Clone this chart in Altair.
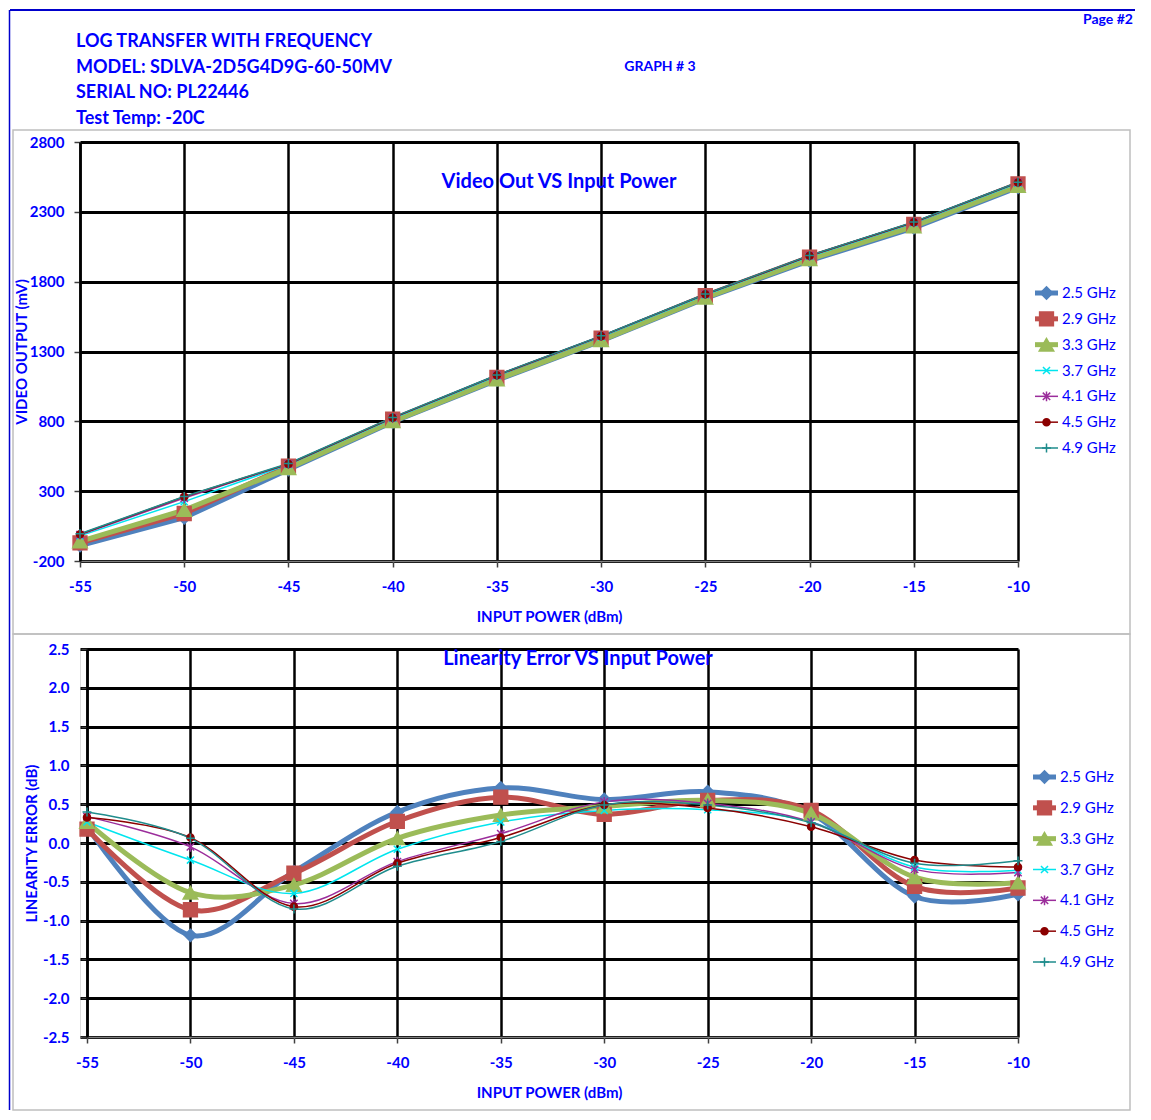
import altair as alt
import pandas as pd

# ---------------- data ----------------
x_power = [-55, -50, -45, -40, -35, -30, -25, -20, -15, -10]
series_names = ["2.5 GHz", "2.9 GHz", "3.3 GHz", "3.7 GHz", "4.1 GHz", "4.5 GHz", "4.9 GHz"]

video_25 = [-90, 110, 455, 795, 1095, 1375, 1680, 1950, 2185, 2475]
video_29 = [-70, 140, 480, 815, 1115, 1395, 1700, 1975, 2210, 2500]
video_33 = [-60, 165, 465, 800, 1100, 1380, 1685, 1960, 2195, 2485]
video_37 = [-20, 225, 490, 820, 1125, 1405, 1705, 1980, 2220, 2505]
video_41 = [-12, 250, 495, 825, 1130, 1410, 1710, 1985, 2225, 2510]
video_45 = [-8, 260, 495, 825, 1130, 1410, 1710, 1985, 2225, 2510]
video_49 = [-5, 262, 498, 828, 1132, 1412, 1712, 1988, 2228, 2512]

lin_25 = [0.21, -1.19, -0.37, 0.40, 0.71, 0.56, 0.66, 0.38, -0.69, -0.66]
lin_29 = [0.18, -0.86, -0.39, 0.28, 0.59, 0.37, 0.55, 0.42, -0.56, -0.58]
lin_33 = [0.27, -0.64, -0.54, 0.06, 0.36, 0.47, 0.55, 0.38, -0.44, -0.51]
lin_37 = [0.27, -0.22, -0.65, -0.08, 0.27, 0.42, 0.43, 0.27, -0.31, -0.35]
lin_41 = [0.34, -0.05, -0.78, -0.24, 0.12, 0.53, 0.51, 0.27, -0.34, -0.38]
lin_45 = [0.33, 0.07, -0.82, -0.26, 0.07, 0.49, 0.45, 0.21, -0.22, -0.31]
lin_49 = [0.40, 0.06, -0.85, -0.30, 0.02, 0.49, 0.49, 0.26, -0.26, -0.23]

video_ticks = [-200, 300, 800, 1300, 1800, 2300, 2800]
lin_ticks = [-2.5, -2.0, -1.5, -1.0, -0.5, 0.0, 0.5, 1.0, 1.5, 2.0, 2.5]

header_lines = ["LOG TRANSFER WITH FREQUENCY", "MODEL: SDLVA-2D5G4D9G-60-50MV",
                "SERIAL NO: PL22446", "Test Temp: -20C"]

# ---------------- styles ----------------
FONT = "Lato, Carlito, Calibri, sans-serif"
BLUE = "#0000ff"
colors = ["#4F81BD", "#C0504D", "#9BBB59", "#00E5EE", "#9B2D9B", "#8B0000", "#1F8C8C"]
fills = ["#4F81BD", "#C0504D", "#9BBB59", "transparent", "transparent", "#8B0000", "transparent"]
shapes = ["diamond", "square", "triangle-up",
          "M-1,-1L1,1M-1,1L1,-1",
          "M-1,-1L1,1M-1,1L1,-1M0,-1.3L0,1.3",
          "circle",
          "M-1,0L1,0M0,-1L0,1"]
line_widths = [5, 5, 5, 1.5, 1.5, 1.5, 1.5]
marker_sizes = [150, 190, 210, 50, 55, 50, 80]
FIXMINUS = "replace(datum.label, '\u2212', '-')"


def long_frame(values):
    rows = []
    for name, vals in zip(series_names, values):
        for xv, yv in zip(x_power, vals):
            rows.append({"power": xv, "value": yv, "series": name})
    return pd.DataFrame(rows)


video_df = long_frame([video_25, video_29, video_33, video_37, video_41, video_45, video_49])
lin_df = long_frame([lin_25, lin_29, lin_33, lin_37, lin_41, lin_45, lin_49])
legend_df = pd.DataFrame({"series": series_names})


def txt(t, x, y, size, align="left", weight="bold"):
    return alt.Chart(pd.DataFrame({"t": [t]})).mark_text(
        align=align, baseline="middle", font=FONT, fontSize=size,
        fontWeight=weight, color=BLUE
    ).encode(text="t:N", x=alt.value(x), y=alt.value(y))


def box(x1, x2, y1, y2):
    return alt.Chart(pd.DataFrame({"a": [0]})).mark_rect(
        fillOpacity=0, stroke="#bfbfbf", strokeWidth=1.5
    ).encode(x=alt.value(x1), x2=alt.value(x2), y=alt.value(y1), y2=alt.value(y2))


STROKE = alt.Stroke("series:N", scale=alt.Scale(domain=series_names, range=colors), legend=None)
FILL = alt.Fill("series:N", scale=alt.Scale(domain=series_names, range=fills), legend=None)
SHAPE = alt.Shape("series:N", scale=alt.Scale(domain=series_names, range=shapes), legend=None)
SIZE = alt.Size("series:N", scale=alt.Scale(type="ordinal", domain=series_names,
                                            range=marker_sizes), legend=None)
SWIDTH = alt.StrokeWidth("series:N", scale=alt.Scale(type="ordinal", domain=series_names,
                                                     range=line_widths), legend=None)


def panel(df, xdomain, ydomain, yvals, yfmt, xtitle, ytitle, height,
          interp, leg_range, leg_x, ytitle_x, ylabel_pad, yoffset):
    xenc = alt.X("power:Q", scale=alt.Scale(domain=xdomain, nice=False, zero=False),
                 axis=alt.Axis(values=x_power, format="d", labelExpr=FIXMINUS,
                               labelFlush=False, title=xtitle, grid=True,
                               gridColor="black", gridWidth=2.5,
                               domainColor="#7f7f7f", domainWidth=1.5,
                               tickColor="#404040", tickSize=6, tickWidth=1.5,
                               labelPadding=12, titlePadding=15,
                               labelFont=FONT, labelFontSize=15, labelFontWeight="bold",
                               labelColor=BLUE, titleFont=FONT, titleFontSize=15,
                               titleFontWeight="bold", titleColor=BLUE))
    yscale = alt.Scale(domain=ydomain, nice=False, zero=False)
    yenc = alt.Y("value:Q", scale=yscale,
                 axis=alt.Axis(values=yvals, format=yfmt, labelExpr=FIXMINUS,
                               title=ytitle, grid=True,
                               gridColor="black", gridWidth=3,
                               domainColor="black", domainWidth=2.5,
                               tickColor="#404040", tickSize=6, tickWidth=1.5,
                               labelPadding=ylabel_pad, titleX=ytitle_x,
                               titleY=height / 2, offset=yoffset,
                               labelFont=FONT, labelFontSize=15, labelFontWeight="bold",
                               labelColor=BLUE, titleFont=FONT, titleFontSize=15,
                               titleFontWeight="bold", titleColor=BLUE))
    yenc_plain = alt.Y("value:Q", scale=yscale, axis=None)
    base = alt.Chart(df)
    lines = base.mark_line(interpolate=interp, tension=0).encode(
        x=xenc, y=yenc, stroke=STROKE, strokeWidth=SWIDTH, detail="series:N",
    )
    pts = base.mark_point(filled=False, strokeWidth=1.5, opacity=1).encode(
        x=xenc, y=yenc_plain, stroke=STROKE, fill=FILL, shape=SHAPE, size=SIZE,
    )
    # legend drawn from the series list through a point scale of its own
    ly = alt.Y("series:N", scale=alt.Scale(type="point", domain=series_names,
                                           range=leg_range, padding=0), axis=None)
    leg = alt.Chart(legend_df)
    leg_rule = leg.mark_rule().encode(
        x=alt.value(leg_x), x2=alt.value(leg_x + 23), y=ly,
        stroke=STROKE, strokeWidth=SWIDTH)
    leg_pts = leg.mark_point(filled=False, strokeWidth=1.5, opacity=1).encode(
        x=alt.value(leg_x + 11.5), y=ly, stroke=STROKE, fill=FILL, shape=SHAPE, size=SIZE)
    leg_txt = leg.mark_text(align="left", baseline="middle", font=FONT, fontSize=15,
                            color=BLUE).encode(
        x=alt.value(leg_x + 27), y=ly, text="series:N")
    return [lines, pts, leg_rule, leg_pts, leg_txt]


# ---------------- top panel ----------------
W = 938
top_marks = panel(video_df, [-55, -10], [-200, 2800], video_ticks, "d",
                  "INPUT POWER (dBm)", "VIDEO OUTPUT (mV)", 419,
                  "linear", [151, 306], 955, -51, 10, 0)
top_layers = [
    box(-67, 1050, -12, 492),
    alt.Chart(pd.DataFrame({"a": [0]})).mark_rule(color="#0000cc", strokeWidth=2).encode(
        x=alt.value(-70), x2=alt.value(1055), y=alt.value(-132)),
    alt.Chart(pd.DataFrame({"a": [0]})).mark_rule(color="#0000cc", strokeWidth=1.5).encode(
        x=alt.value(-70.5), y=alt.value(-132), y2=alt.value(968)),
] + top_marks + [
    txt("Video Out VS Input Power", 479, 40, 20, align="center"),
    txt("GRAPH # 3", 580, -75, 14, align="center"),
    txt("Page #2", 1053, -122, 14, align="right"),
]
for i, line in enumerate(header_lines):
    top_layers.append(txt(line, -4, -100 + i * 25.7, 18))

top = alt.layer(*top_layers).resolve_scale(y="independent").properties(width=W, height=419)

# ---------------- bottom panel ----------------
shift = 7 / (931 / 45)
bot_marks = panel(lin_df, [-55 - shift, -10], [-2.5, 2.5], lin_ticks, ".1f",
                  "INPUT POWER (dBm)", "LINEARITY ERROR (dB)", 388,
                  "cardinal", [128, 313], 953, -48, 12, -7)
bottom = alt.layer(
    *([box(-67, 1050, -15, 461)] + bot_marks +
      [txt("Linearity Error VS Input Power", 498, 10, 20, align="center")])
).resolve_scale(y="independent").properties(width=W, height=388)

chart = alt.vconcat(top, bottom, spacing=88, bounds="flush").properties(
    padding=0).configure_view(stroke=None).configure(background="white")

chart.save("out.html", embed_options={"renderer": "svg", "actions": False})
